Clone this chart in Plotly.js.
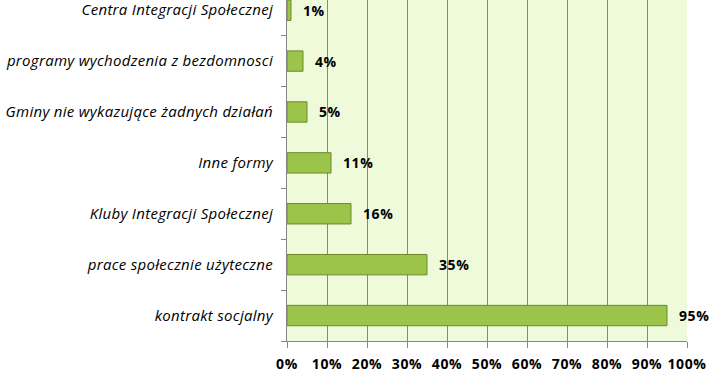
<!DOCTYPE html>
<html><head><meta charset="utf-8">
<script src="https://cdn.plot.ly/plotly-3.0.1.min.js"></script>
<style>body{margin:0;background:#fff}#c{width:713px;height:374px}
.xtick text, .annotation-text {letter-spacing:0.6px}
.ytick text {letter-spacing:0.3px}
</style>
</head><body><div id="c"></div>
<script>
const categories = ["kontrakt socjalny","prace społecznie użyteczne","Kluby Integracji Społecznej","Inne formy","Gminy nie wykazujące żadnych działań","programy wychodzenia z bezdomnosci","Centra Integracji Społecznej"];
const values = [0.95,0.35,0.16,0.11,0.05,0.04,0.01];
const valueLabels = ["95%","35%","16%","11%","5%","4%","1%"];
const xTickVals = [0,0.1,0.2,0.3,0.4,0.5,0.6,0.7,0.8,0.9,1.0];
const xTickText = ["0%","10%","20%","30%","40%","50%","60%","70%","80%","90%","100%"];

const font = "'Open Sans', Lato, sans-serif";
const trace = {
  type: "bar", orientation: "h",
  x: values, y: categories,
  marker: {color: "#9CC44B", line: {color: "#6A8A2A", width: 1}},
  hoverinfo: "none"
};
const annotations = values.map((v,i)=>({
  x: v, y: categories[i], xref: "x", yref: "y",
  text: "<b>"+valueLabels[i]+"</b>", showarrow: false,
  xanchor: "left", xshift: 10,
  font: {family: font, size: 14, color: "#000"}
}));
const layout = {
  width: 713, height: 374,
  margin: {l: 287, r: 26, t: 0, b: 33},
  paper_bgcolor: "#ffffff", plot_bgcolor: "#EFFADB",
  bargap: 0.6, showlegend: false,
  xaxis: {
    range: [0,1], tickvals: xTickVals, ticktext: xTickText,
    showgrid: true, gridcolor: "#868686", gridwidth: 1,
    zeroline: false, showline: true, linecolor: "#868686",
    ticks: "outside", ticklen: 6, tickcolor: "#868686",
    ticklabelstandoff: 4,
    tickfont: {family: font, size: 14, color: "#000", weight: "bold"},
    fixedrange: true
  },
  yaxis: {
    type: "category", categoryorder: "array", categoryarray: categories,
    range: [-0.5, 6.2],
    showline: true, linecolor: "#868686", showgrid: false, zeroline: false,
    ticks: "outside", ticklen: 5, tickcolor: "#868686", tickson: "boundaries",
    ticklabelstandoff: 10,
    tickfont: {family: font, size: 15, color: "#000", style: "italic"},
    fixedrange: true
  },
  annotations: annotations
};
Plotly.newPlot("c", [trace], layout, {displayModeBar: false, staticPlot: true});
</script></body></html>
